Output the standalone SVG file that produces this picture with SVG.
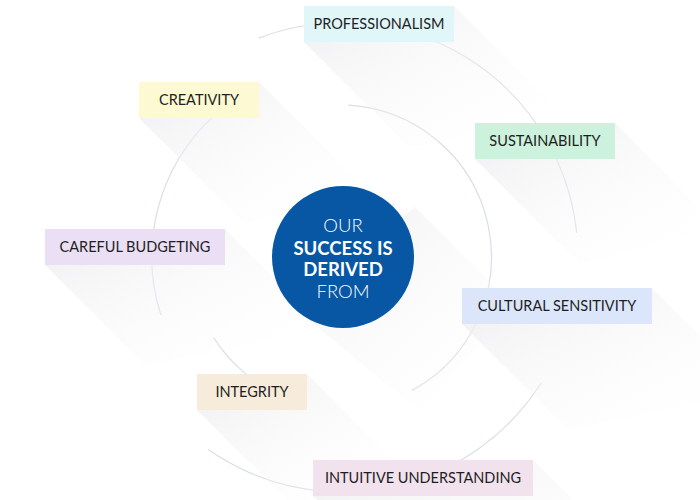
<svg xmlns="http://www.w3.org/2000/svg" width="700" height="500" viewBox="0 0 700 500">
<style>
.arc{fill:none;stroke:#d9dee8;stroke-width:1.2}
.lbl{font-family:Lato,"Open Sans","Liberation Sans",sans-serif;font-size:14.5px;fill:#1e1e1e;text-anchor:middle}
.ctr{font-family:Lato,"Open Sans","Liberation Sans",sans-serif;font-size:18.5px;fill:#fff;text-anchor:middle}
.shd{fill:url(#sg)}
</style>
<defs>
<linearGradient id="sg" x1="0" y1="0" x2="1" y2="1">
<stop offset="0" stop-color="#ececee" stop-opacity="0.85"/>
<stop offset="0.4" stop-color="#f2f2f4" stop-opacity="0.45"/>
<stop offset="1" stop-color="#ffffff" stop-opacity="0"/>
</linearGradient>
</defs>
<rect width="700" height="500" fill="#fff"/>
<g id="connectors">
<path class="arc" d="M 258.8 38.1 A 235 235 0 0 1 576.7 232.8"/>
<path class="arc" d="M 541.1 383.0 A 235 235 0 0 1 208.2 449.6"/>
<path class="arc" d="M 213.0 116.6 A 191 191 0 0 0 160.9 315.0"/>
<path class="arc" d="M 348.3 105.1 A 152 152 0 0 1 412.0 390.4"/>
<path class="arc" d="M 213.6 337.6 A 152 152 0 0 0 246.1 374.1"/>
</g>
<g id="shadows">
<polygon class="shd" points="414.9,207 518,310 418,410 293,307"/>
<polygon class="shd" points="454,6 560,112 410,148 304,42"/>
<polygon class="shd" points="259,82 365,188 245,224 139,118"/>
<polygon class="shd" points="615,123 720,228 580,264 475,159"/>
<polygon class="shd" points="225,229 325,329 145,365 45,265"/>
<polygon class="shd" points="652,288 757,393 567,429 462,324"/>
<polygon class="shd" points="307,374 402,469 292,505 197,410"/>
<polygon class="shd" points="533,460 633,560 413,596 313,496"/>
</g>
<g id="center">
<circle cx="343" cy="257" r="71" fill="#0757a5"/>
<text class="ctr" x="343" y="232" font-weight="300">OUR</text>
<text class="ctr" x="343" y="255" font-weight="700">SUCCESS IS</text>
<text class="ctr" x="343" y="276" font-weight="700">DERIVED</text>
<text class="ctr" x="343" y="298" font-weight="300">FROM</text>
</g>
<g id="professionalism">
<rect x="304" y="6" width="150" height="36" fill="#e0f6f9"/>
<text class="lbl" x="379" y="29">PROFESSIONALISM</text>
</g>
<g id="creativity">
<rect x="139" y="82" width="120" height="36" fill="#fdfad3"/>
<text class="lbl" x="199" y="105">CREATIVITY</text>
</g>
<g id="sustainability">
<rect x="475" y="123" width="140" height="36" fill="#ccf1dd"/>
<text class="lbl" x="545" y="146">SUSTAINABILITY</text>
</g>
<g id="careful-budgeting">
<rect x="45" y="229" width="180" height="36" fill="#ebdff6"/>
<text class="lbl" x="135" y="252">CAREFUL BUDGETING</text>
</g>
<g id="cultural-sensitivity">
<rect x="462" y="288" width="190" height="36" fill="#dce6fb"/>
<text class="lbl" x="557" y="311">CULTURAL SENSITIVITY</text>
</g>
<g id="integrity">
<rect x="197" y="374" width="110" height="36" fill="#f7ecdc"/>
<text class="lbl" x="252" y="397">INTEGRITY</text>
</g>
<g id="intuitive-understanding">
<rect x="313" y="460" width="220" height="36" fill="#f2e2ee"/>
<text class="lbl" x="423" y="483">INTUITIVE UNDERSTANDING</text>
</g>
</svg>
